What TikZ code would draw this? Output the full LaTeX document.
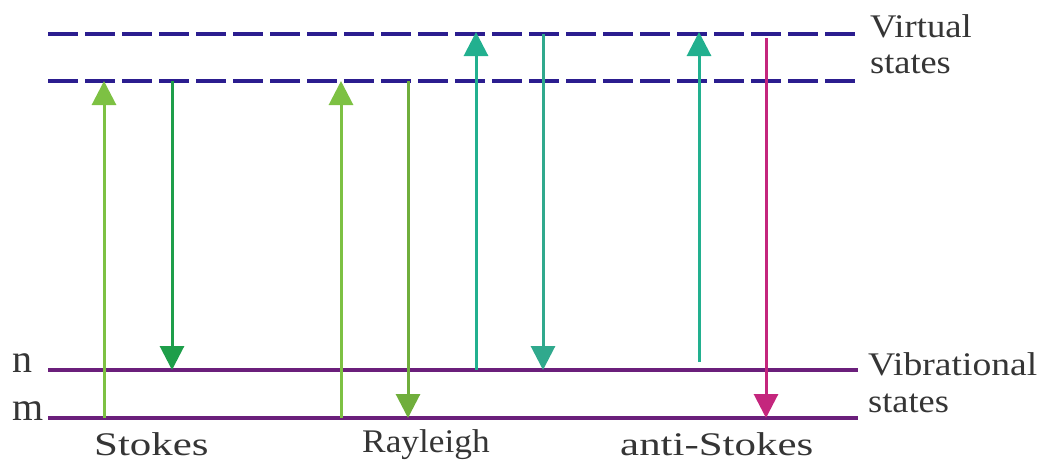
\documentclass[tikz,border=0pt]{standalone}
\usepackage{fontspec}
\setmainfont{Liberation Serif}
\usetikzlibrary{arrows.meta}
\definecolor{vblue}{HTML}{2B1D8F}
\definecolor{vpurple}{HTML}{6B1F7B}
\definecolor{lgreen}{HTML}{7DC143}
\definecolor{dgreen}{HTML}{1E9E4A}
\definecolor{teal2}{HTML}{22B08F}
\definecolor{magen}{HTML}{C4267D}
\definecolor{txt}{HTML}{353535}
\tikzset{
  virtual/.style={line width=4pt, vblue, dash pattern=on 30pt off 7pt},
  vib/.style={line width=4pt, vpurple},
  trans/.style={line width=3pt, -{Triangle[width=24pt,length=24pt]}},
  lbl/.style={inner sep=0pt, anchor=base west, text=txt, font=\fontsize{33}{38}\selectfont},
  big/.style={lbl, font=\fontsize{40}{44}\selectfont},
}
\begin{document}
\begin{tikzpicture}[x=1pt,y=-1pt]
\useasboundingbox (0,0) rectangle (1041,461);
% level lines
\coordinate (v2L) at (48,34);  \coordinate (v2R) at (858,34);
\coordinate (v1L) at (48,81);  \coordinate (v1R) at (858,81);
\coordinate (nL) at (48,370);  \coordinate (nR) at (858,370);
\coordinate (mL) at (48,418);  \coordinate (mR) at (858,418);
\draw[virtual] (v2L) -- (v2R);
\draw[virtual] (v1L) -- (v1R);
\draw[vib] (nL) -- (nR);
\draw[vib] (mL) -- (mR);
% transitions
\coordinate (s1a) at (104,418); \coordinate (s1b) at (104,81);
\coordinate (s2a) at (172,81);  \coordinate (s2b) at (172,370);
\coordinate (r1a) at (341,418); \coordinate (r1b) at (341,81);
\coordinate (r2a) at (408,81);  \coordinate (r2b) at (408,418);
\coordinate (a1a) at (476,370); \coordinate (a1b) at (476,32);
\coordinate (a2a) at (543,34);  \coordinate (a2b) at (543,370);
\coordinate (a3a) at (699,362); \coordinate (a3b) at (699,32);
\coordinate (a4a) at (766,38);  \coordinate (a4b) at (766,418);
\draw[trans, lgreen] (s1a) -- (s1b);
\draw[trans, dgreen] (s2a) -- (s2b);
\draw[trans, lgreen] (r1a) -- (r1b);
\draw[trans, lgreen!90!black] (r2a) -- (r2b);
\draw[trans, teal2] (a1a) -- (a1b);
\draw[trans, teal2!85!gray] (a2a) -- (a2b);
\draw[trans, teal2] (a3a) -- (a3b);
\draw[trans, magen] (a4a) -- (a4b);
% labels
\node[lbl] (tv1) at (870,37) {\scalebox{1.11}[1]{Virtual}};
\node[lbl] (tv2) at (870,73) {\scalebox{1.1}[1]{states}};
\node[lbl] (tb1) at (868,375) {\scalebox{1.14}[1]{Vibrational}};
\node[lbl] (tb2) at (868,412) {\scalebox{1.1}[1]{states}};
\node[big] (tn) at (12,372) {n};
\node[big] (tm) at (12,420) {m};
\node[lbl] (ts) at (94,455) {\scalebox{1.3}[1]{Stokes}};
\node[lbl] (tr) at (362,452) {\scalebox{1.07}[1]{Rayleigh}};
\node[lbl] (ta) at (620,455) {\scalebox{1.3}[1]{anti-Stokes}};
\end{tikzpicture}
\end{document}
